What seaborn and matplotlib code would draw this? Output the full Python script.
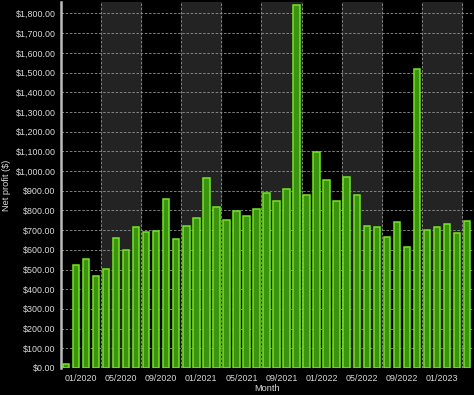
import pandas as pd
import matplotlib
matplotlib.use("Agg")
import matplotlib.pyplot as plt
import seaborn as sns

# Monthly net profit, Jan 2020 .. May 2023
months = pd.date_range("2020-01-01", periods=41, freq="MS").strftime("%m/%Y")
profit = [
    18, 525, 555, 465, 505, 662, 600, 718, 690, 698, 860, 655,
    720, 760, 965, 815, 750, 797, 770, 808, 890, 850, 908, 1845,
    880, 1095, 952, 850, 968, 876, 722, 718, 665, 742, 612, 1520,
    700, 715, 732, 685, 748,
]
tick_labels = ["01/2020", "05/2020", "09/2020", "01/2021", "05/2021",
               "09/2021", "01/2022", "05/2022", "09/2022", "01/2023"]

df = pd.DataFrame({"Month": months, "Profit": profit})

sns.set_style("dark")
plt.rcParams["font.family"] = ["Liberation Sans", "DejaVu Sans"]

txt = "#dcdcdc"
fig = plt.figure(figsize=(4.74, 3.95), dpi=100, facecolor="black")
ax = fig.add_axes([61 / 474, 27 / 395, 1 - 61 / 474, 366 / 395])
ax.set_facecolor("black")

# alternating grey bands every 4 months
for start in range(4, 41, 8):
    ax.axvspan(start - 0.5, start + 3.5, color="#232323", zorder=0)

sns.barplot(data=df, x="Month", y="Profit", color="#3b9410", saturation=1,
            edgecolor="#74e522", linewidth=1.1, width=0.64, ax=ax, zorder=3)

ax.set_xlim(-0.5, 40.7)
ax.set_ylim(0, 1858)

# grid lines at block boundaries, labels centred in each block
ax.set_xticks([k - 0.5 for k in range(0, 41, 4)])
ax.set_xticklabels([])
ax.set_xticks([k + 1.5 for k in range(0, 40, 4)], minor=True)
ax.set_xticklabels(tick_labels, minor=True)
ax.tick_params(axis="x", which="minor", length=0, pad=4)
ax.tick_params(axis="x", which="major", length=2.5, color="#bbbbbb", pad=0)
ax.set_yticks(range(0, 1801, 100))
ax.set_yticklabels(["${:,.2f}".format(v) for v in range(0, 1801, 100)])
ax.tick_params(axis="y", length=2.5, color="#bbbbbb", pad=1.5)
ax.tick_params(which="both", labelsize=6.4, labelcolor=txt)

ax.grid(True, which="major", color="#949494", linestyle=(0, (3, 2)), linewidth=0.6)
ax.set_axisbelow(True)
for gl in ax.get_xgridlines() + ax.get_ygridlines():
    gl.set_zorder(1)

for s in ["top", "right", "bottom"]:
    ax.spines[s].set_visible(False)
ax.spines["left"].set_color("#bdbdbd")
ax.spines["left"].set_linewidth(1.8)

ax.set_xlabel("Month", fontsize=6.6, color=txt, labelpad=1)
ax.set_ylabel("Net profit ($)", fontsize=6.6, color=txt, labelpad=3)

fig.savefig("out.png", dpi=100, facecolor="black")
